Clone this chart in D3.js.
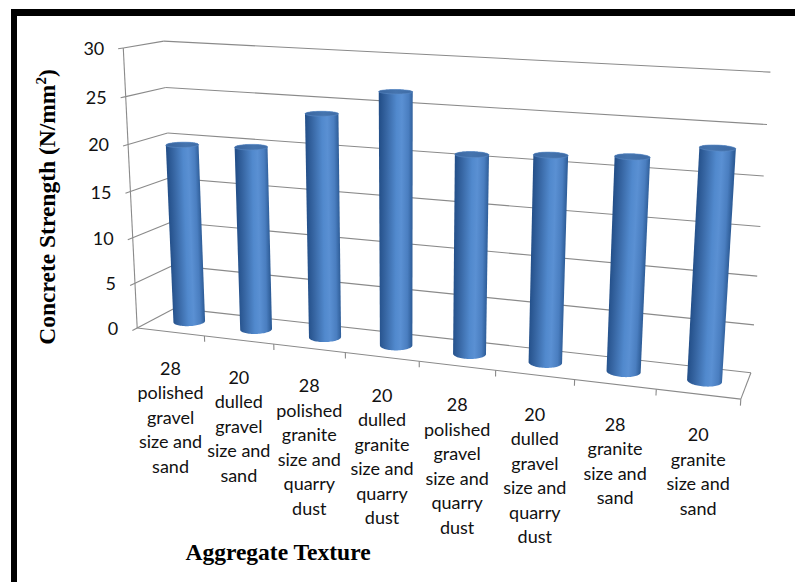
<!DOCTYPE html>
<html>
<head>
<meta charset="utf-8">
<script src="https://cdn.jsdelivr.net/npm/d3@7"></script>
<style>
  html, body { margin: 0; padding: 0; background: #fff; overflow: hidden; }
  svg { display: block; }
</style>
</head>
<body>
<svg id="chart" width="795" height="582"></svg>
<script>
// ---- data -------------------------------------------------------------
const categories = [
  "28\npolished\ngravel\nsize and\nsand",
  "20\ndulled\ngravel\nsize and\nsand",
  "28\npolished\ngranite\nsize and\nquarry\ndust",
  "20\ndulled\ngranite\nsize and\nquarry\ndust",
  "28\npolished\ngravel\nsize and\nquarry\ndust",
  "20\ndulled\ngravel\nsize and\nquarry\ndust",
  "28\ngranite\nsize and\nsand",
  "20\ngranite\nsize and\nsand"
];
const strength = [19.6, 19.9, 23.9, 26.6, 20.8, 21.3, 21.7, 23.1];
const valueTicks = [0, 5, 10, 15, 20, 25, 30];
const valueMax = 30;
const yTitleMain = "Concrete Strength (N/mm";
const yTitleSup = "2";
const yTitleEnd = ")";
const xTitle = "Aggregate Texture";

// ---- 3-D world: x in band units, y from the value scale, z is depth -----
const nCat = categories.length;
const depth = 1;
const x = d3.scaleBand().domain(d3.range(nCat)).range([0, nCat])
  .paddingInner(0.58).paddingOuter(0.29);
const y = d3.scaleLinear().domain([0, valueMax]).range([0, 1]);

// Screen positions of the plot box corners and a few wall levels
// (x in bands, value, depth) -> pixels; the camera is solved from them.
const frameAnchors = [
  { at: [0, 0, 0],        px: [138, 327] },
  { at: [0, 30, 0],       px: [122, 49] },
  { at: [0, 25, 0],       px: [125, 98] },
  { at: [0, 5, 0],        px: [135, 283] },
  { at: [0, 30, depth],   px: [165, 40] },
  { at: [0, 25, depth],   px: [167, 86] },
  { at: [0, 5, depth],    px: [173, 268] },
  { at: [0, 0, depth],    px: [174, 307] },
  { at: [nCat, 30, depth], px: [770, 71] },
  { at: [nCat, 20, depth], px: [763, 177] },
  { at: [nCat, 10, depth], px: [758, 277] },
  { at: [nCat, 0, depth],  px: [750, 373] },
  { at: [nCat, 0, 0],      px: [742, 398] }
];

// Least-squares fit of a 3x4 projective camera (last entry fixed to 1).
function solveCamera(anchors) {
  const rows = [], rhs = [];
  anchors.forEach(({ at: [X, V, Z], px: [u, v] }) => {
    const Y = y(V);
    rows.push([X, Y, Z, 1, 0, 0, 0, 0, -u * X, -u * Y, -u * Z]); rhs.push(u);
    rows.push([0, 0, 0, 0, X, Y, Z, 1, -v * X, -v * Y, -v * Z]); rhs.push(v);
  });
  const n = 11;
  const M = Array.from({ length: n }, () => new Array(n + 1).fill(0));
  rows.forEach((r, k) => {
    for (let i = 0; i < n; i++) {
      for (let j = 0; j < n; j++) M[i][j] += r[i] * r[j];
      M[i][n] += r[i] * rhs[k];
    }
  });
  for (let c = 0; c < n; c++) {
    let p = c;
    for (let r = c + 1; r < n; r++) if (Math.abs(M[r][c]) > Math.abs(M[p][c])) p = r;
    [M[c], M[p]] = [M[p], M[c]];
    for (let r = 0; r < n; r++) {
      if (r === c) continue;
      const f = M[r][c] / M[c][c];
      for (let k = c; k <= n; k++) M[r][k] -= f * M[c][k];
    }
  }
  return M.map((row, i) => row[n] / row[i]);
}
const cam = solveCamera(frameAnchors);

// project a world point given as [x band units, value, depth]
function project([X, V, Z]) {
  const Y = y(V);
  const w = cam[8] * X + cam[9] * Y + cam[10] * Z + 1;
  return [
    (cam[0] * X + cam[1] * Y + cam[2] * Z + cam[3]) / w,
    (cam[4] * X + cam[5] * Y + cam[6] * Z + cam[7]) / w
  ];
}

// ---- drawing ----------------------------------------------------------
const svg = d3.select("#chart");
const defs = svg.append("defs");

// outer frame: only its top and left sides fall inside the page
svg.append("rect").attr("x", 11).attr("y", 9).attr("width", 784).attr("height", 7).attr("fill", "#000");
svg.append("rect").attr("x", 11).attr("y", 9).attr("width", 6).attr("height", 573).attr("fill", "#000");

const line = d3.line();
const gridColor = "#8a8a8a";
const frame = svg.append("g").attr("fill", "none").attr("stroke", gridColor)
  .attr("stroke-width", 1.1);

// back wall levels
frame.selectAll("path.back").data(valueTicks).join("path")
  .attr("class", "back")
  .attr("d", v => line([project([0, v, depth]), project([nCat, v, depth])]));
// side wall levels
frame.selectAll("path.side").data(valueTicks).join("path")
  .attr("class", "side")
  .attr("d", v => line([project([0, v, 0]), project([0, v, depth])]));
// floor front and right edges
frame.append("path").attr("d", line([project([0, 0, 0]), project([nCat, 0, 0])]));
frame.append("path").attr("d", line([project([nCat, 0, 0]), project([nCat, 0, depth])]));
// value axis and its ticks
frame.append("path").attr("d", line([project([0, 0, 0]), project([0, valueMax, 0])]));
frame.selectAll("path.vtick").data(valueTicks).join("path")
  .attr("class", "vtick")
  .attr("d", v => line([project([0, v, 0]), project([0, v, -0.12])]));
// category boundary ticks
frame.selectAll("path.ctick").data(d3.range(1, nCat + 1)).join("path")
  .attr("class", "ctick")
  .attr("d", k => line([project([k, 0, 0]), project([k, -0.65, 0])]));

// cylinders
const N = 72;
const radius = x.bandwidth() / 2;
function ring(cx, cz, v) {
  return d3.range(N).map(i => {
    const t = 2 * Math.PI * i / N;
    return project([cx + radius * Math.cos(t), v, cz + radius * Math.sin(t)]);
  });
}
const bars = svg.append("g");
strength.forEach((val, i) => {
  const cx = x(i) + radius;
  const cz = depth / 2;
  const bottom = ring(cx, cz, 0);
  const top = ring(cx, cz, val);
  const mid = ring(cx, cz, val / 2);
  const left = mid.reduce((a, b) => (b[0] < a[0] ? b : a));
  const right = mid.reduce((a, b) => (b[0] > a[0] ? b : a));

  const gid = "cyl" + i;
  const g = defs.append("linearGradient").attr("id", gid)
    .attr("gradientUnits", "userSpaceOnUse")
    .attr("x1", left[0]).attr("y1", left[1])
    .attr("x2", right[0]).attr("y2", right[1]);
  [[0, "#24508a"], [0.2, "#3766a3"], [0.5, "#5189cd"], [0.66, "#5a90d3"],
   [0.86, "#4a7ec0"], [1, "#2e5d98"]].forEach(([o, c]) =>
    g.append("stop").attr("offset", o).attr("stop-color", c));

  bars.append("path")
    .attr("d", "M" + d3.polygonHull(bottom.concat(top)).join("L") + "Z")
    .attr("fill", `url(#${gid})`);

  const tg = "cyltop" + i;
  const tgrad = defs.append("linearGradient").attr("id", tg)
    .attr("gradientUnits", "userSpaceOnUse")
    .attr("x1", left[0]).attr("y1", 0).attr("x2", right[0]).attr("y2", 0);
  [[0, "#3a66a0"], [0.5, "#4574ae"], [1, "#3f6ca6"]].forEach(([o, c]) =>
    tgrad.append("stop").attr("offset", o).attr("stop-color", c));
  bars.append("path")
    .attr("d", "M" + top.join("L") + "Z")
    .attr("fill", `url(#${tg})`)
    .attr("stroke", "#5d8cc6").attr("stroke-width", 0.6);
});

// value tick labels
svg.append("g")
  .attr("font-family", "Lato, 'Open Sans', sans-serif")
  .attr("font-size", 18).attr("fill", "#111")
  .selectAll("text").data(valueTicks).join("text")
  .attr("x", v => project([0, v, 0])[0] - 19)
  .attr("y", v => project([0, v, 0])[1])
  .attr("text-anchor", "end")
  .attr("dominant-baseline", "central")
  .text(v => v);

// category labels, hung below the front edge of the floor
const catG = svg.append("g")
  .attr("font-family", "Lato, 'Open Sans', sans-serif")
  .attr("font-size", 18).attr("fill", "#111")
  .attr("text-anchor", "middle");
categories.forEach((c, i) => {
  const [px, py] = project([i + 0.5, 0, 0]);
  const top = py + 36 + i * 0.6;
  const t = catG.append("text").attr("dominant-baseline", "central");
  c.split("\n").forEach((ln, k) => {
    t.append("tspan").attr("x", px).attr("y", top + k * 24.5).text(ln);
  });
});

// axis titles
const yt = svg.append("text")
  .attr("transform", "translate(55,207) rotate(-90)")
  .attr("text-anchor", "middle")
  .attr("font-family", "'Liberation Serif', 'Times New Roman', serif")
  .attr("font-weight", "bold").attr("font-size", 23.5).attr("fill", "#000");
yt.append("tspan").text(yTitleMain);
yt.append("tspan").attr("font-size", 15).attr("dy", -9).text(yTitleSup);
yt.append("tspan").attr("dy", 9).text(yTitleEnd);

svg.append("text")
  .attr("x", 278).attr("y", 560)
  .attr("text-anchor", "middle")
  .attr("font-family", "'Liberation Serif', 'Times New Roman', serif")
  .attr("font-weight", "bold").attr("font-size", 23.5).attr("fill", "#000")
  .text(xTitle);
</script>
</body>
</html>
